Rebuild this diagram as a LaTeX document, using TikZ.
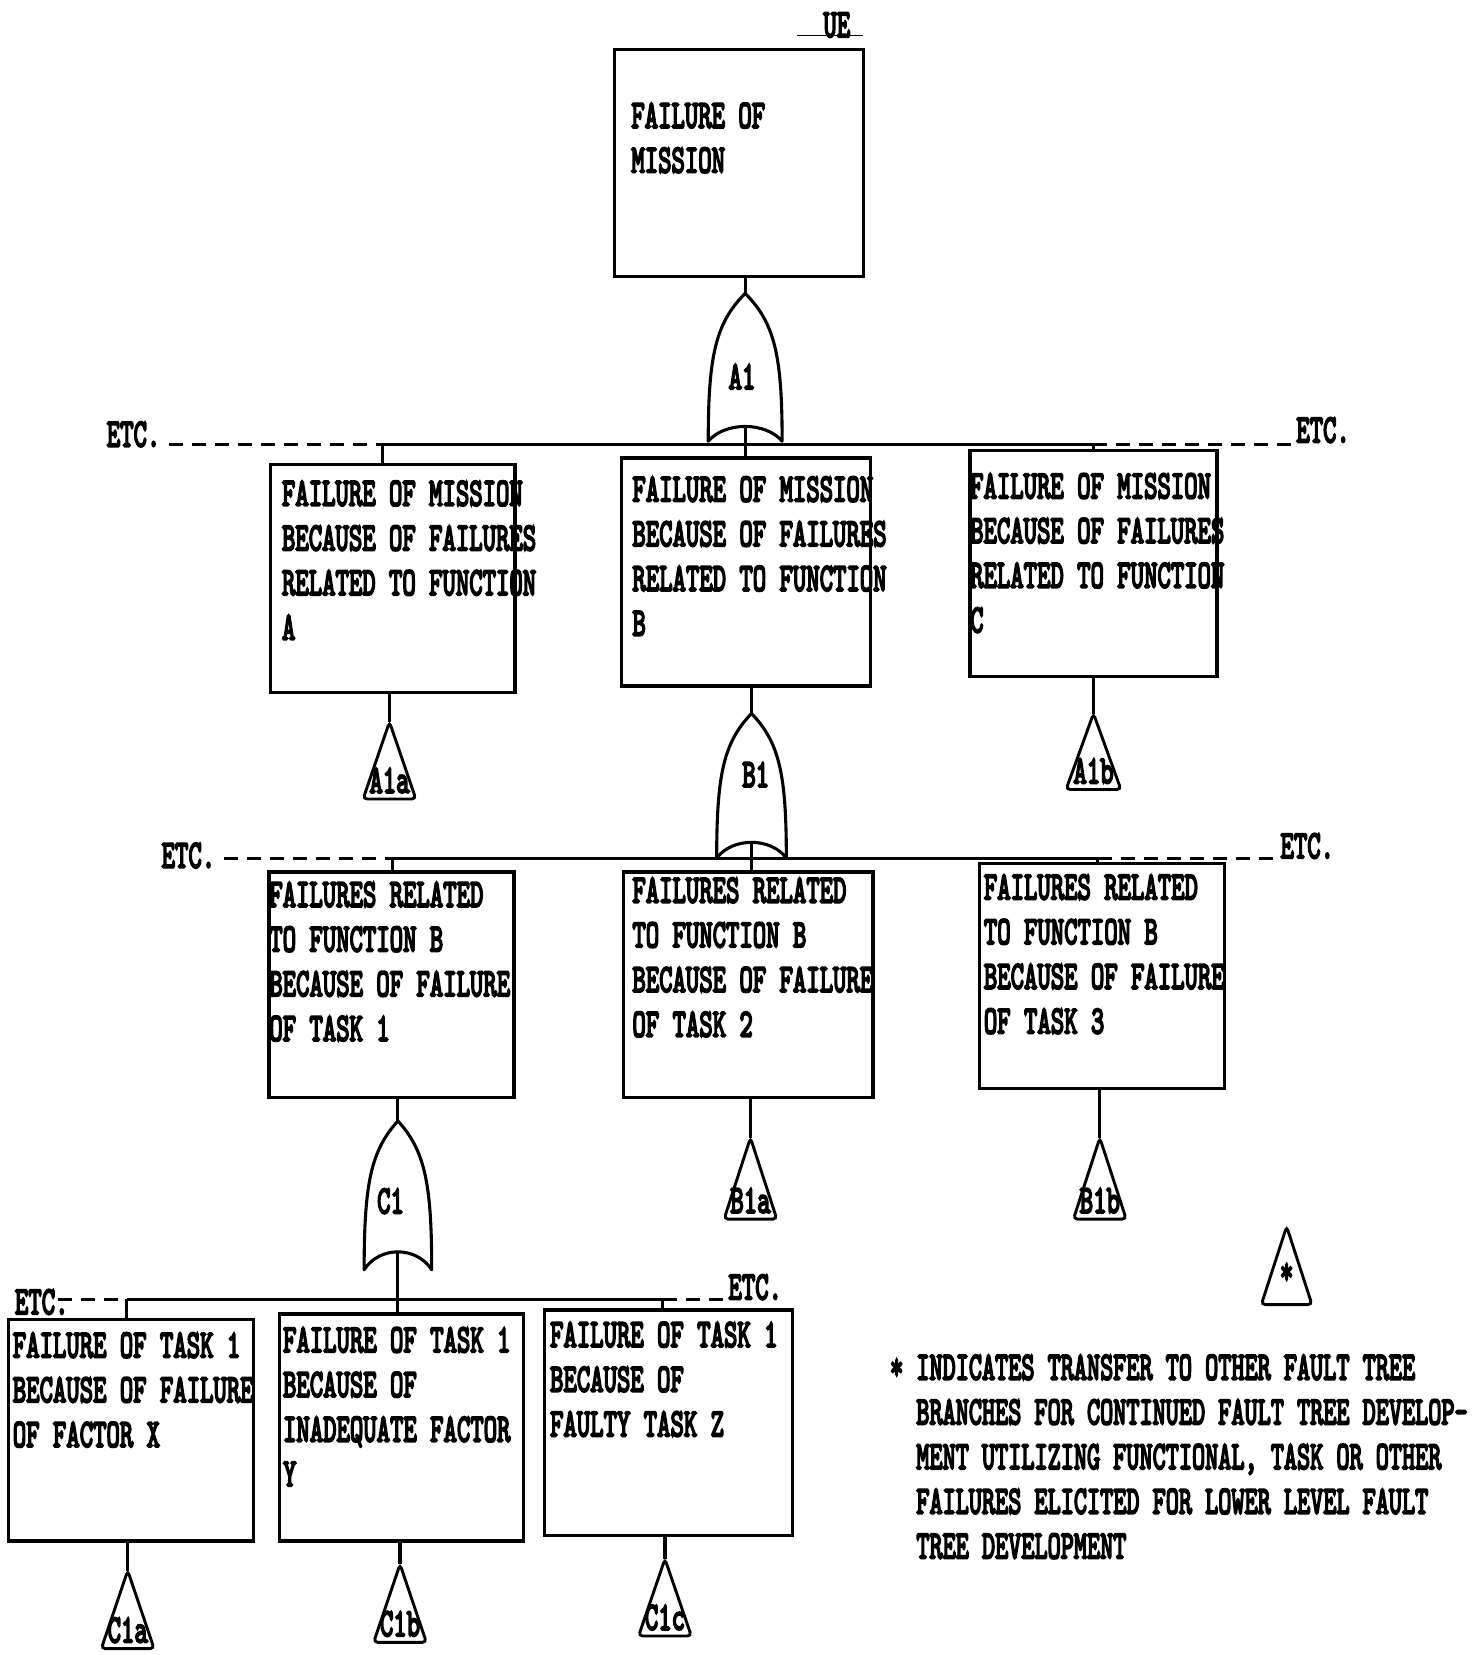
\documentclass[tikz,border=0pt]{standalone}
\usepackage{graphicx}
\usepackage{fontspec}
\newfontfamily\twf{lmmono10-regular}[Extension=.otf,FakeBold=5.5]
\usetikzlibrary{fit}
\newcommand\lns[1]{\scalebox{0.642}[1]{\begin{tabular}[t]{@{}l@{}}#1\end{tabular}}}
\newcommand\lnsb[1]{\scalebox{0.63}[1]{\begin{tabular}[t]{@{}l@{}}#1\end{tabular}}}
% OR gate: #1 name, #2 cx, #3 apex y, #4 bottom y, #5 half width, #6 arc height
\newcommand\orgate[6]{%
  \coordinate (#1-in) at (#2,#3);
  \coordinate (#1-out) at (#2,{#4-#6});
  \draw[gate] (#2,#3) .. controls ({#2-0.8*#5},{#3+0.2*(#4-#3)}) and ({#2-#5},{#3+0.42*(#4-#3)}) .. ({#2-#5},#4)
    .. controls ({#2-0.55*#5},{#4-1.33*#6}) and ({#2+0.55*#5},{#4-1.33*#6}) .. ({#2+#5},#4)
    .. controls ({#2+#5},{#3+0.42*(#4-#3)}) and ({#2+0.8*#5},{#3+0.2*(#4-#3)}) .. (#2,#3) -- cycle;
}
% transfer triangle: #1 name, #2 cx, #3 apex y, #4 base y, #5 half width, #6 label
\newcommand\xfer[6]{%
  \coordinate (#1) at (#2,#3);
  \draw[tri] (#2,#3) -- ({#2-#5},#4) -- ({#2+#5},#4) -- cycle;
  \node[txt,anchor=base] (#1-l) at (#2,{#4-6}) {\lns{#6}};
}
\begin{document}
\begin{tikzpicture}[x=1.0558pt,y=-1.0558pt,
  box/.style={draw,line width=3.4pt,inner sep=0pt},
  txt/.style={inner sep=0pt,anchor=base west,font=\twf\fontsize{39.7}{44.7}\selectfont},
  conn/.style={line width=3.1pt},
  etcline/.style={line width=3.1pt,dash pattern=on 14pt off 9pt},
  gate/.style={line width=3.1pt,line join=round},
  tri/.style={line width=2.9pt,rounded corners=4pt},
]
\fill[white] (0,0) rectangle (1399,1568);
\useasboundingbox (0,0) rectangle (1399,1568);

% ---------- top event ----------
\node[box,fit={(582,47) (818,262)}] (top) {};
\node[txt] (topt) at (598,121) {\lns{FAILURE OF\\MISSION}};
\coordinate (ueL) at (755,34);
\coordinate (ueR) at (818,34);
\draw[line width=1pt] (ueL) -- (ueR);
\node[txt] (ue) at (780,35) {\lns{UE}};

% ---------- gate A1 ----------
\orgate{gA1}{706}{278}{418}{35}{14}
\node[txt,anchor=center] (A1) at (703,360) {\lns{A1}};
\draw[conn] (top.south -| gA1-in) -- (gA1-in);

% ---------- level A boxes ----------
\node[box,fit={(256,440) (488,656)}] (fA) {};
\node[txt] (fAt) at (267,479) {\lns{FAILURE OF MISSION\\BECAUSE OF FAILURES\\RELATED TO FUNCTION\\A}};
\node[box,fit={(589,434) (825,650)}] (fB) {};
\node[txt] (fBt) at (599,475) {\lns{FAILURE OF MISSION\\BECAUSE OF FAILURES\\RELATED TO FUNCTION\\B}};
\node[box,fit={(919,427) (1153,641)}] (fC) {};
\node[txt] (fCt) at (919,472) {\lns{FAILURE OF MISSION\\BECAUSE OF FAILURES\\RELATED TO FUNCTION\\C}};

% bus A
\coordinate (jA) at (362,421);
\coordinate (jC) at (1036,421);
\coordinate (dAL) at (160,421);
\coordinate (dAR) at (1225,421);
\draw[conn] (jA) -- (jC);
\draw[etcline] (dAL) -- (jA);
\draw[etcline] (jC) -- (dAR);
\node[txt] (etcAL) at (101,423) {\lns{ETC.}};
\node[txt] (etcAR) at (1228,419) {\lns{ETC.}};
\draw[conn] (jA) -- (jA |- fA.north);
\draw[conn] (jC) -- (jC |- fC.north);
\draw[conn] (gA1-out) -- (gA1-out |- fB.north);

% transfers below A and C
\xfer{xA1a}{369}{684}{757}{25}{A1a}
\draw[conn] (fA.south -| xA1a) -- (xA1a);
\xfer{xA1b}{1036}{676}{748}{26}{A1b}
\draw[conn] (fC.south -| xA1b) -- (xA1b);

% ---------- gate B1 ----------
\orgate{gB1}{712}{676}{813}{33}{15}
\node[txt,anchor=center] (B1) at (716,737) {\lns{B1}};
\draw[conn] (fB.south -| gB1-in) -- (gB1-in);

% ---------- level B boxes ----------
\node[box,fit={(255,826) (487,1040)}] (tB1) {};
\node[txt] (tB1t) at (255,859) {\lns{FAILURES RELATED\\TO FUNCTION B\\BECAUSE OF FAILURE\\OF TASK 1}};
\node[box,fit={(591,826) (827,1040)}] (tB2) {};
\node[txt] (tB2t) at (599,855) {\lns{FAILURES RELATED\\TO FUNCTION B\\BECAUSE OF FAILURE\\OF TASK 2}};
\node[box,fit={(928,818) (1160,1031)}] (tB3) {};
\node[txt] (tB3t) at (932,852) {\lns{FAILURES RELATED\\TO FUNCTION B\\BECAUSE OF FAILURE\\OF TASK 3}};

% bus B
\coordinate (jB1) at (372,813);
\coordinate (jB3) at (1040,813);
\coordinate (dBL) at (212,813);
\coordinate (dBR) at (1210,813);
\draw[conn] (jB1) -- (jB3);
\draw[etcline] (dBL) -- (jB1);
\draw[etcline] (jB3) -- (dBR);
\node[txt] (etcBL) at (153,822) {\lns{ETC.}};
\node[txt] (etcBR) at (1213,813) {\lns{ETC.}};
\draw[conn] (jB1) -- (jB1 |- tB1.north);
\draw[conn] (jB3) -- (jB3 |- tB3.north);
\draw[conn] (gB1-out) -- (gB1-out |- tB2.north);

% transfers below B2 and B3
\xfer{xB1a}{711}{1078}{1155}{25}{B1a}
\draw[conn] (tB2.south -| xB1a) -- (xB1a);
\xfer{xB1b}{1042}{1078}{1155}{25}{B1b}
\draw[conn] (tB3.south -| xB1b) -- (xB1b);

% ---------- gate C1 ----------
\orgate{gC1}{377}{1062}{1203}{32}{17}
\node[txt,anchor=center] (C1) at (370,1141) {\lns{C1}};
\draw[conn] (tB1.south -| gC1-in) -- (gC1-in);

% ---------- level C boxes ----------
\node[box,fit={(8,1250) (240,1460)}] (cX) {};
\node[txt] (cXt) at (12,1286) {\lns{FAILURE OF TASK 1\\BECAUSE OF FAILURE\\OF FACTOR X}};
\node[box,fit={(265,1245) (496,1460)}] (cY) {};
\node[txt] (cYt) at (268,1281) {\lns{FAILURE OF TASK 1\\BECAUSE OF\\INADEQUATE FACTOR\\Y}};
\node[box,fit={(516,1241) (751,1455)}] (cZ) {};
\node[txt] (cZt) at (521,1276) {\lns{FAILURE OF TASK 1\\BECAUSE OF\\FAULTY TASK Z}};

% bus C
\coordinate (jCX) at (120,1231);
\coordinate (jCZ) at (628,1231);
\coordinate (dCL) at (55,1231);
\coordinate (dCR) at (688,1231);
\draw[conn] (jCX) -- (jCZ);
\draw[etcline] (dCL) -- (jCX);
\draw[etcline] (jCZ) -- (dCR);
\node[txt] (etcCL) at (14,1245) {\lns{ETC.}};
\node[txt] (etcCR) at (690,1231) {\lns{ETC.}};
\draw[conn] (jCX) -- (jCX |- cX.north);
\draw[conn] (jCZ) -- (jCZ |- cZ.north);
\draw[conn] (gC1-out) -- (gC1-out |- cY.north);

% transfers below C boxes
\xfer{xC1a}{121}{1488}{1562}{25}{C1a}
\draw[conn] (cX.south -| xC1a) -- (xC1a);
\xfer{xC1b}{379}{1482}{1556}{25}{C1b}
\draw[conn] (cY.south -| xC1b) -- (xC1b);
\xfer{xC1c}{630}{1477}{1550}{25}{C1c}
\draw[conn] (cZ.south -| xC1c) -- (xC1c);

% ---------- legend ----------
\xfer{xStar}{1219}{1162}{1236}{24}{}
\node[txt,anchor=center] (star) at (1219,1208) {\lns{*}};
\node[txt] (legstar) at (843,1307) {\lns{*}};
\node[txt] (leg) at (868,1307) {\lnsb{INDICATES TRANSFER TO OTHER FAULT TREE\\BRANCHES FOR CONTINUED FAULT TREE DEVELOP-\\MENT UTILIZING FUNCTIONAL, TASK OR OTHER\\FAILURES ELICITED FOR LOWER LEVEL FAULT\\TREE DEVELOPMENT}};
\end{tikzpicture}
\end{document}
